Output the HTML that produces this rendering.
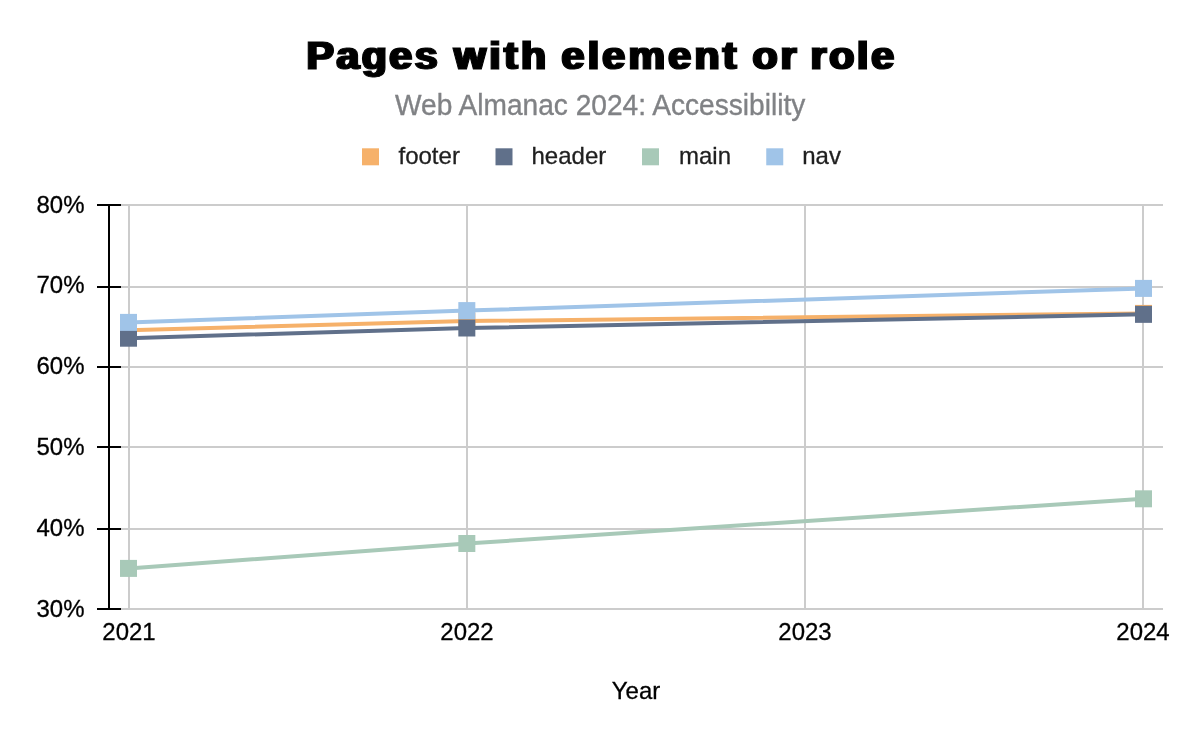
<!DOCTYPE html>
<html lang="en">
<head>
<meta charset="utf-8">
<title>Pages with element or role</title>
<style>
html,body{margin:0;padding:0;background:#fff;}
body{width:1200px;height:742px;overflow:hidden;font-family:"Liberation Sans",sans-serif;}
svg{display:block;}
text{font-family:"Liberation Sans",sans-serif;}
</style>
</head>
<body>
<svg width="1200" height="742" viewBox="0 0 1200 742">
<rect width="1200" height="742" fill="#ffffff"/>
<defs><filter id="hb" x="-2%" y="-10%" width="104%" height="120%"><feMorphology operator="dilate" radius="1 0"/></filter></defs>
<!-- title -->
<text id="title" filter="url(#hb)" transform="scale(1.04,1.0)" y="68.9" font-size="39.5" font-weight="bold" fill="#000" stroke="#000" stroke-width="1.0" stroke-linejoin="miter"><tspan x="294.71" textLength="125.96" lengthAdjust="spacing">Pages</tspan> <tspan x="436.54" textLength="88.46" lengthAdjust="spacing">with</tspan> <tspan x="539.90" textLength="168.27" lengthAdjust="spacing">element</tspan> <tspan x="723.56" textLength="42.31" lengthAdjust="spacing">or</tspan> <tspan x="779.33" textLength="80.29" lengthAdjust="spacing">role</tspan></text>
<text id="sub" transform="scale(1,1.02)" x="600.2" y="112.45" text-anchor="middle" font-size="28.1" fill="#808285" stroke="#808285" stroke-width="0.35">Web Almanac 2024: Accessibility</text>
<!-- legend -->
<g font-size="24" fill="#1f1f1f" stroke="#1f1f1f" stroke-width="0.3">
<rect x="362" y="148.3" width="17" height="17" fill="#f6b16a" stroke="none"/>
<text x="398.5" y="163.5">footer</text>
<rect x="495.5" y="148.3" width="17" height="17" fill="#60708a" stroke="none"/>
<text x="531.5" y="163.5">header</text>
<rect x="642" y="148.3" width="17" height="17" fill="#a8c9b8" stroke="none"/>
<text x="679" y="163.5">main</text>
<rect x="766.25" y="148.3" width="17" height="17" fill="#a0c4e8" stroke="none"/>
<text x="802.25" y="163.5">nav</text>
</g>
<!-- grid -->
<g fill="#cccccc">
<rect x="121" y="204" width="1042" height="2"/>
<rect x="121" y="286" width="1042" height="2"/>
<rect x="121" y="366" width="1042" height="2"/>
<rect x="121" y="446" width="1042" height="2"/>
<rect x="121" y="528" width="1042" height="2"/>
<rect x="121" y="608" width="1042" height="2"/>
<rect x="128" y="204" width="2" height="406"/>
<rect x="466" y="204" width="2" height="406"/>
<rect x="804" y="204" width="2" height="406"/>
<rect x="1142" y="204" width="2" height="406"/>
</g>
<!-- axis -->
<g fill="#000">
<rect x="108" y="204" width="2" height="406"/>
<rect x="97" y="204" width="24" height="2"/>
<rect x="97" y="286" width="24" height="2"/>
<rect x="97" y="366" width="24" height="2"/>
<rect x="97" y="446" width="24" height="2"/>
<rect x="97" y="528" width="24" height="2"/>
<rect x="97" y="608" width="24" height="2"/>
</g>
<g font-size="24" fill="#000" stroke="#000" stroke-width="0.3" text-anchor="end" transform="scale(1,1.025)">
<text x="84.5" y="208.00">80%</text>
<text x="84.5" y="286.34">70%</text>
<text x="84.5" y="365.17">60%</text>
<text x="84.5" y="444.20">50%</text>
<text x="84.5" y="523.02">40%</text>
<text x="84.5" y="601.85">30%</text>
</g>
<g font-size="24" fill="#000" stroke="#000" stroke-width="0.3" text-anchor="middle" transform="scale(1,1.025)">
<text x="129" y="624.20">2021</text>
<text x="467" y="624.20">2022</text>
<text x="805" y="624.20">2023</text>
<text x="1143" y="624.20">2024</text>
<text x="636" y="682.24">Year</text>
</g>
<!-- series -->
<g id="series">
<g fill="#f6b16a" stroke="none"><polyline points="128.5,330.2 466.83,321.1 1143.5,313.4" fill="none" stroke="#f6b16a" stroke-width="4"/>
<rect x="120.00" y="321.70" width="17" height="17"/>
<rect x="458.33" y="312.60" width="17" height="17"/>
<rect x="1135.00" y="304.90" width="17" height="17"/>
</g>
<g fill="#60708a" stroke="none"><polyline points="128.5,338.2 466.83,328.0 1143.5,314.35" fill="none" stroke="#60708a" stroke-width="4"/>
<rect x="120.00" y="329.70" width="17" height="17"/>
<rect x="458.33" y="319.50" width="17" height="17"/>
<rect x="1135.00" y="305.85" width="17" height="17"/>
</g>
<g fill="#a8c9b8" stroke="none"><polyline points="128.5,568.4 466.83,543.5 1143.5,498.8" fill="none" stroke="#a8c9b8" stroke-width="4"/>
<rect x="120.00" y="559.90" width="17" height="17"/>
<rect x="458.33" y="535.00" width="17" height="17"/>
<rect x="1135.00" y="490.30" width="17" height="17"/>
</g>
<g fill="#a0c4e8" stroke="none"><polyline points="128.5,322.4 466.83,310.6 1143.5,288.4" fill="none" stroke="#a0c4e8" stroke-width="4"/>
<rect x="120.00" y="313.90" width="17" height="17"/>
<rect x="458.33" y="302.10" width="17" height="17"/>
<rect x="1135.00" y="279.90" width="17" height="17"/>
</g>
</g>
</svg>
</body>
</html>
